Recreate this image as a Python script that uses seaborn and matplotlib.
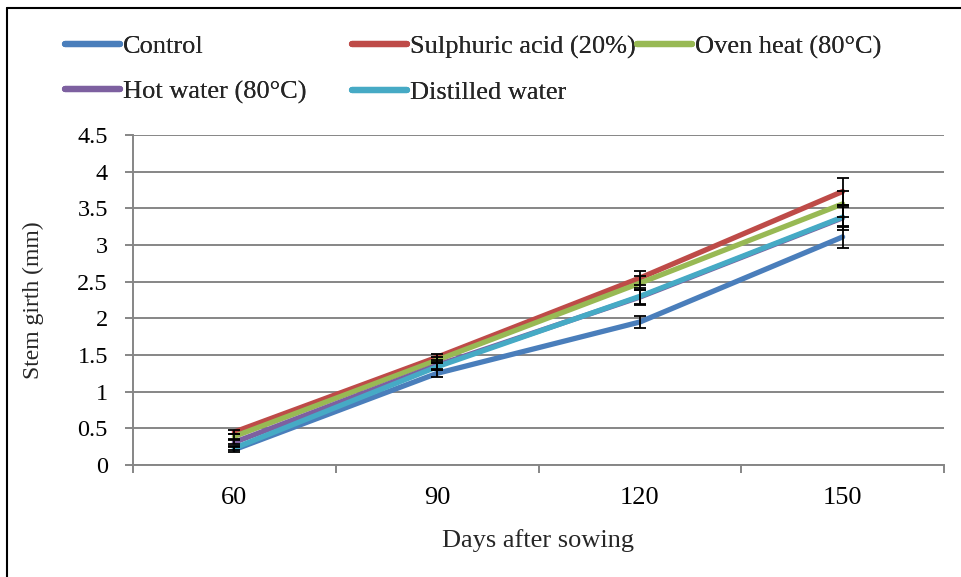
import matplotlib
matplotlib.use("Agg")
import matplotlib.pyplot as plt
import seaborn as sns
import pandas as pd
from matplotlib.lines import Line2D
from matplotlib.font_manager import FontProperties

days = ["60", "90", "120", "150"]
series_names = ["Control", "Sulphuric acid (20%)", "Oven heat (80°C)", "Hot water (80°C)", "Distilled water"]
control = [0.21, 1.25, 1.95, 3.11]
sulphuric = [0.45, 1.47, 2.55, 3.73]
oven = [0.39, 1.43, 2.48, 3.56]
hot_water = [0.31, 1.36, 2.29, 3.37]
distilled = [0.23, 1.34, 2.30, 3.38]
control_err = [0.03, 0.05, 0.085, 0.15]
sulphuric_err = [0.03, 0.04, 0.09, 0.19]
oven_err = [0.03, 0.04, 0.10, 0.18]
hot_water_err = [0.03, 0.05, 0.10, 0.17]
distilled_err = [0.03, 0.05, 0.12, 0.14]
y_ticks = [0, 0.5, 1, 1.5, 2, 2.5, 3, 3.5, 4, 4.5]
y_tick_labels = ["0", "0.5", "1", "1.5", "2", "2.5", "3", "3.5", "4", "4.5"]

colors = ["#4A7EBB", "#BE4B48", "#98B954", "#7D60A0", "#46AAC5"]
values = [control, sulphuric, oven, hot_water, distilled]
errors = [control_err, sulphuric_err, oven_err, hot_water_err, distilled_err]

rows = []
for name, vals in zip(series_names, values):
    for d, v in zip(days, vals):
        rows.append({"Days": d, "Girth": v, "Series": name})
df = pd.DataFrame(rows)

sns.set_theme(style="white")
FAM = ["Liberation Serif", "DejaVu Serif"]
plt.rcParams["font.family"] = FAM

fig = plt.figure(figsize=(9.62, 5.77), dpi=100)
ax = fig.add_axes([133/962, 1-465/577, (944-133)/962, (465-135)/577])

grid_c = "#868686"
sns.lineplot(data=df, x="Days", y="Girth", hue="Series", hue_order=series_names,
             palette=colors, linewidth=3.8, ax=ax, legend=False, sort=False)

for vals, errs in zip(values, errors):
    ax.errorbar(days, vals, yerr=errs, fmt="none", ecolor="black",
                elinewidth=1.3, capsize=4, capthick=1.3, zorder=5)

ax.set_xlim(-0.5, 3.5)
ax.set_ylim(0, 4.5)
ax.set_yticks(y_ticks)
ax.set_yticklabels(y_tick_labels, fontfamily=FAM)
ax.yaxis.grid(True, color=grid_c, linewidth=1.4)
ax.set_axisbelow(True)
for s in ["top", "right"]:
    ax.spines[s].set_visible(False)
for s in ["left", "bottom"]:
    ax.spines[s].set_color(grid_c)
    ax.spines[s].set_linewidth(1.4)

ax.tick_params(axis="y", which="major", length=6, width=1.4, color=grid_c,
               direction="out", left=True, labelsize=17.5, pad=12, labelcolor="black")
ax.tick_params(axis="x", which="major", length=0, labelsize=19, pad=16, labelcolor="black")
ax.set_xticks([-0.5, 0.5, 1.5, 2.5, 3.5], minor=True)
ax.tick_params(axis="x", which="minor", length=6, width=1.4, color=grid_c,
               direction="out", bottom=True)

ax.set_xlabel("Days after sowing", fontsize=19, labelpad=14, fontfamily=FAM)
ax.set_ylabel("Stem girth (mm)", fontsize=17, labelpad=24, fontfamily=FAM)

# Legend in three columns, positioned like the reference
def make_handle(c):
    return Line2D([0], [0], color=c, linewidth=4.5)

leg_font = FontProperties(family="Liberation Serif", size=19)
cols = [([0, 3], 65), ([1, 4], 352), ([2], 637)]
for idxs, xpx in cols:
    leg = fig.legend([make_handle(colors[i]) for i in idxs], [series_names[i] for i in idxs],
                     loc="upper left", bbox_to_anchor=(xpx/962, 1-35/577),
                     frameon=False, prop=leg_font,
                     handlelength=2.1, handletextpad=0.1,
                     borderaxespad=0, borderpad=0, labelspacing=0.82)
    fig.add_artist(leg)

# outer border (left and top edges visible)
fig.add_artist(Line2D([7/962, 7/962], [0, 1-8/577], transform=fig.transFigure, color="black", linewidth=1.5))
fig.add_artist(Line2D([7/962, 1], [1-8/577, 1-8/577], transform=fig.transFigure, color="black", linewidth=1.5))

fig.savefig("out.png", dpi=100, facecolor="white")
